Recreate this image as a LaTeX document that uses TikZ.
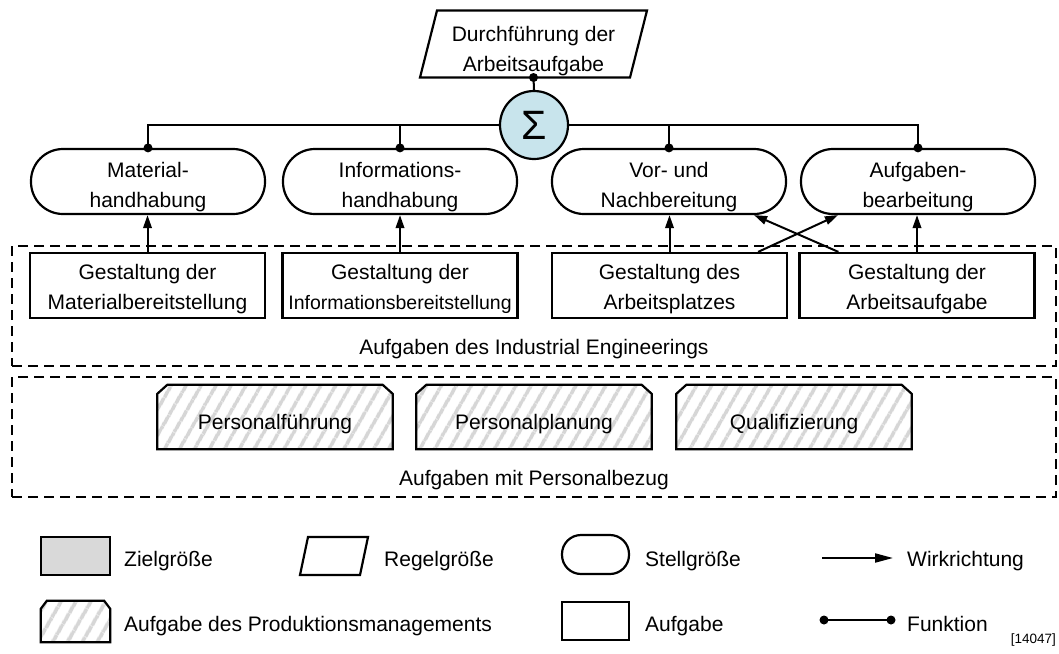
\documentclass[tikz,border=0pt]{standalone}
\usepackage{fontspec}
\setmainfont{Liberation Sans}
\usetikzlibrary{arrows.meta, calc, backgrounds, patterns.meta}
\definecolor{sumblue}{HTML}{C8E4EC}
\definecolor{goalgray}{HTML}{D9D9D9}
\definecolor{hatchgray}{HTML}{D6D6D6}
\newcommand\dfont{\fontsize{21}{30}\selectfont}
\newcommand\smallinfo{\fontsize{19.5}{30}\selectfont}
\tikzset{
  every node/.style={font=\dfont},
  txt/.style={align=center, inner sep=0pt},
  legtxt/.style={inner sep=0pt, anchor=base west},
  shapeline/.style={draw, line width=2.2pt},
  stadium/.style={draw, line width=2.2pt, rounded corners=32pt, minimum width=234pt, minimum height=65pt, inner sep=0pt},
  taskbox/.style={draw, line width=2.2pt, minimum width=235pt, minimum height=65pt, inner sep=0pt},
  mgmtbox/.style={minimum width=235pt, minimum height=64pt, inner sep=0pt},
  mgmtfill/.style={draw, line width=2.2pt, pattern={Lines[angle=60, distance=13pt, line width=4pt]}, pattern color=hatchgray},
  region/.style={draw, line width=2pt, dash pattern=on 10pt off 6pt, minimum width=1044pt, minimum height=120pt, inner sep=0pt},
  conn/.style={line width=2pt},
  arrow/.style={conn, -{Triangle[length=13pt, width=8.5pt]}},
}
\begin{document}
\begin{tikzpicture}[x=1pt, y=-1pt]
\useasboundingbox (0,0) rectangle (1059,653);

% dashed task regions
\node[region] (ie) at (534,306) {};
\node[region] (pers) at (534,437) {};
\node[txt] (ielabel) at (534,349.5) {Aufgaben des Industrial Engineerings};
\node[txt] (perslabel) at (534,480.5) {Aufgaben mit Personalbezug};

% target variable (parallelogram)
\node[txt] (goal) at (533.5,51) {Durchführung der\\Arbeitsaufgabe};
\draw[shapeline] ($(goal.center)+(-96.5,-40.5)$) -- ($(goal.center)+(113.5,-40.5)$)
  -- ($(goal.center)+(96.5,26.5)$) -- ($(goal.center)+(-113.5,26.5)$) -- cycle;
\coordinate (goalb) at ($(goal.center)+(0,26.5)$);

% summation
\node[circle, draw, line width=2.2pt, fill=sumblue, minimum size=68pt, inner sep=0pt,
      font=\fontsize{41}{41}\selectfont] (sum) at (534,125) {Σ};

% manipulated variables
\node[stadium, label={[txt,yshift=-6pt]center:{Material-\\handhabung}}] (s1) at (148,181.5) {};
\node[stadium, label={[txt,yshift=-6pt]center:{Informations-\\handhabung}}] (s2) at (400,181.5) {};
\node[stadium, label={[txt,yshift=-6pt]center:{Vor- und\\Nachbereitung}}] (s3) at (669,181.5) {};
\node[stadium, label={[txt,yshift=-6pt]center:{Aufgaben-\\bearbeitung}}] (s4) at (918,181.5) {};

% industrial engineering tasks
\node[taskbox, label={[txt,yshift=-4pt]center:{Gestaltung der\\Materialbereitstellung}}] (g1) at (147.5,285.5) {};
\node[taskbox, label={[txt,yshift=-3pt]center:{Gestaltung der\\{\smallinfo Informationsbereitstellung}}}] (g2) at (400,285.5) {};
\node[taskbox, label={[txt,yshift=-4pt]center:{Gestaltung des\\Arbeitsplatzes}}] (g3) at (669.5,285.5) {};
\node[taskbox, label={[txt,yshift=-4pt]center:{Gestaltung der\\Arbeitsaufgabe}}] (g4) at (917,285.5) {};

% personnel related tasks
\node[mgmtbox, label={[txt,yshift=-7pt]center:Personalführung}] (p1) at (275,417) {};
\node[mgmtbox, label={[txt,yshift=-7pt]center:Personalplanung}] (p2) at (534,417) {};
\node[mgmtbox, label={[txt,yshift=-7pt]center:Qualifizierung}] (p3) at (794,417) {};

% legend
\node[draw, line width=2.2pt, fill=goalgray, minimum width=69pt, minimum height=38pt, inner sep=0pt] (lgoal) at (75.5,556) {};
\node[legtxt] (lgoalt) at (124,566) {Zielgröße};
\coordinate (lreg) at (334,556);
\draw[shapeline] ($(lreg)+(-26,-19)$) -- ($(lreg)+(34,-19)$) -- ($(lreg)+(26,19)$) -- ($(lreg)+(-34,19)$) -- cycle;
\node[legtxt] (lregt) at (384,566) {Regelgröße};
\node[stadium, minimum width=67pt, minimum height=39pt, rounded corners=19pt] (lst) at (595.5,554.5) {};
\node[legtxt] (lstt) at (645,566) {Stellgröße};
\coordinate (lwa) at (822,558);
\coordinate (lwb) at (893,558);
\draw[conn, -{Triangle[length=18pt, width=9pt]}] (lwa) -- (lwb);
\node[legtxt] (lwt) at (907,566) {Wirkrichtung};
\node[mgmtbox, minimum width=69pt, minimum height=41pt] (lmg) at (75.5,621.5) {};
\node[legtxt] (lmgt) at (124,631) {Aufgabe des Produktionsmanagements};
\node[taskbox, minimum width=67pt, minimum height=38pt] (ltask) at (595.5,621) {};
\node[legtxt] (ltaskt) at (645,631) {Aufgabe};
\coordinate (lfa) at (824,620);
\coordinate (lfb) at (891,620);
\draw[conn] (lfa) -- (lfb);
\fill (lfa) circle[radius=4.5pt] (lfb) circle[radius=4.5pt];
\node[legtxt] (lft) at (907,631) {Funktion};
\node[anchor=base east, inner sep=0pt, font=\fontsize{13.5}{14}\selectfont] (ref) at (1056,643) {[14047]};

% hatched chamfered outlines behind their texts
\begin{scope}[on background layer]
\foreach \n in {p1,p2,p3}
  \draw[mgmtfill] (\n.south west) -- ($(\n.north west)+(0,9)$) -- ($(\n.north west)+(10,0)$)
    -- ($(\n.north east)+(-10,0)$) -- ($(\n.north east)+(0,9)$) -- (\n.south east) -- cycle;
\draw[mgmtfill] (lmg.south west) -- ($(lmg.north west)+(0,8)$) -- ($(lmg.north west)+(6,0)$)
    -- ($(lmg.north east)+(-6,0)$) -- ($(lmg.north east)+(0,8)$) -- (lmg.south east) -- cycle;
\end{scope}

% effect arrows
\foreach \i in {1,...,4}
  \draw[arrow] (g\i.north) -- (g\i.north |- s\i.south);
\draw[arrow] ($(g3.north east)+(-30,0)$) -- ($(s4.south west)+(38,0)$);
\draw[arrow] ($(g4.north west)+(40,0)$) -- ($(s3.south east)+(-33,0)$);

% function lines
\draw[conn] (s1.north) |- (sum.west);
\draw[conn] (sum.east) -| (s4.north);
\draw[conn] (s2.north) -- (s2.north |- sum.west);
\draw[conn] (s3.north) -- (s3.north |- sum.east);
\draw[conn] (goalb) -- (sum.north);
\foreach \n in {s1,s2,s3,s4}
  \fill (\n.north) circle[radius=4.5pt];
\fill (goalb) circle[radius=4.5pt];
\end{tikzpicture}
\end{document}
